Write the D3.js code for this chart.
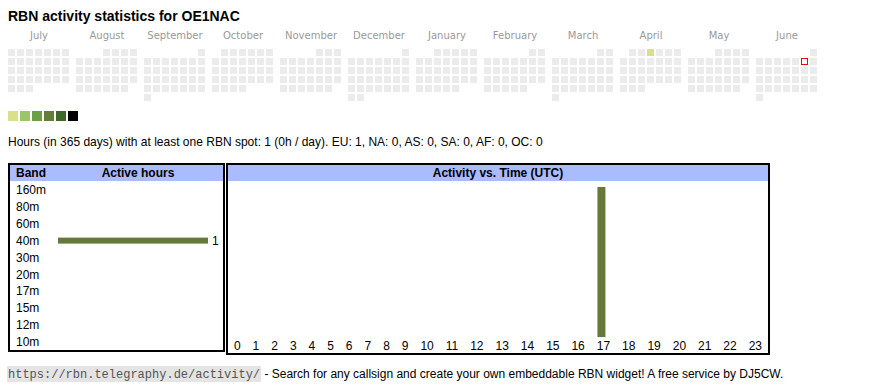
<!DOCTYPE html>
<html><head><meta charset="utf-8">
<script src="https://cdn.jsdelivr.net/npm/d3@7"></script>
<style>body{margin:0;background:#fff}svg{display:block}</style>
</head><body>
<svg id="c" width="870" height="390"></svg>
<script>
// ---------- data ----------
const title = "RBN activity statistics for OE1NAC";
const monthNames = ["July","August","September","October","November","December","January","February","March","April","May","June"];
const monthFirstWeekday = [0,3,6,1,4,6,2,5,5,1,3,6]; // 0 = Monday
const monthDays = [31,31,30,31,30,31,31,28,31,30,31,30];
const activeMonth = ["April"];
const activeDay = [3];
const activeDayHours = [1];
const todayMonth = "June";
const todayDay = 7;
const levelColors = ["#d9e08a","#9dc46b","#6aa046","#677b3b","#3d6a28","#000000"];
const summaryText = "Hours (in 365 days) with at least one RBN spot: 1 (0h / day). EU: 1, NA: 0, AS: 0, SA: 0, AF: 0, OC: 0";
const bands = ["160m","80m","60m","40m","30m","20m","17m","15m","12m","10m"];
const bandHours = [0,0,0,1,0,0,0,0,0,0];
const hours = ["0","1","2","3","4","5","6","7","8","9","10","11","12","13","14","15","16","17","18","19","20","21","22","23"];
const hourActivity = [0,0,0,0,0,0,0,0,0,0,0,0,0,0,0,0,0,1,0,0,0,0,0,0];
const footerUrl = "https://rbn.telegraphy.de/activity/";
const footerText = " - Search for any callsign and create your own embeddable RBN widget! A free service by DJ5CW.";

// ---------- drawing ----------
const svg = d3.select("#c");
const SANS = "'Liberation Sans', Arial, sans-serif";
const barColor = "#657a3a";
const headBlue = "#aabbff";

svg.append("text").attr("x", 8).attr("y", 21)
  .attr("font-family", SANS).attr("font-weight", "bold").attr("font-size", 14)
  .attr("fill", "#000").text(title);

// calendar
const monthX = d3.scaleBand().domain(monthNames).range([8, 8 + 12 * 68]);
const cell = 9, cs = 7, calTop = 49;
const color = d3.scaleThreshold().domain([2,3,4,5,6]).range(levelColors);

const cal = svg.append("g");
monthNames.forEach((m, i) => {
  const x0 = monthX(m);
  cal.append("text").attr("x", x0 + 31).attr("y", 39)
    .attr("text-anchor", "middle").attr("font-family", "'DejaVu Sans', Verdana, sans-serif")
    .attr("font-size", 10).attr("fill", "#999").text(m);
  const days = d3.range(1, monthDays[i] + 1);
  cal.selectAll(null).data(days).enter().append("rect")
    .each(function(d) {
      const k = monthFirstWeekday[i] + d - 1;
      const col = k % 7, row = Math.floor(k / 7);
      const ai = activeMonth.findIndex((am, j) => am === m && activeDay[j] === d);
      const isToday = (m === todayMonth && d === todayDay);
      const r = d3.select(this);
      if (isToday) {
        r.attr("x", x0 + col * cell + 0.5).attr("y", calTop + row * cell + 0.5)
         .attr("width", cs - 1).attr("height", cs - 1)
         .attr("fill", "#fff").attr("stroke", "#ff0000").attr("stroke-width", 1);
      } else {
        r.attr("x", x0 + col * cell).attr("y", calTop + row * cell)
         .attr("width", cs).attr("height", cs)
         .attr("fill", ai >= 0 ? color(activeDayHours[ai]) : "#ebebeb");
      }
    });
});

// legend
svg.append("g").selectAll("rect").data(levelColors).enter().append("rect")
  .attr("x", (d, i) => 8 + i * 12).attr("y", 111).attr("width", 10).attr("height", 10)
  .attr("fill", d => d);

const sumT = svg.append("text").attr("x", 0).attr("y", 0)
  .attr("font-family", SANS).attr("font-size", 12).attr("fill", "#000").text(summaryText);
const sw = sumT.node().getComputedTextLength();
sumT.attr("transform", `translate(8,146) scale(${535 / sw},1)`);

// ---------- left table ----------
const L = {x0: 9, x1: 224, y0: 164, y1: 351};
svg.append("rect").attr("x", L.x0 + 1).attr("y", L.y0 + 1).attr("width", L.x1 - L.x0 - 2).attr("height", 16).attr("fill", headBlue);
svg.append("rect").attr("x", L.x0).attr("y", L.y0).attr("width", L.x1 - L.x0).attr("height", L.y1 - L.y0)
  .attr("fill", "none").attr("stroke", "#000").attr("stroke-width", 2);
svg.append("text").attr("x", 16).attr("y", 177).attr("font-family", SANS).attr("font-weight", "bold").attr("font-size", 12).text("Band");
svg.append("text").attr("x", 138).attr("y", 177).attr("text-anchor", "middle").attr("font-family", SANS).attr("font-weight", "bold").attr("font-size", 12).text("Active hours");

const yBand = d3.scaleBand().domain(bands).range([181.6, 350.2]);
const xLen = d3.scaleLinear().domain([0, d3.max(bandHours)]).range([0, 150]);
const lg = svg.append("g");
lg.selectAll("text.b").data(bands).enter().append("text")
  .attr("x", 16).attr("y", d => yBand(d) + yBand.bandwidth() / 2 + 4.3)
  .attr("font-family", SANS).attr("font-size", 12).attr("fill", "#000").text(d => d);
const bandData = bands.map((b, i) => ({b, v: bandHours[i]})).filter(d => d.v > 0);
lg.selectAll("rect").data(bandData).enter().append("rect")
  .attr("x", 58).attr("y", d => yBand(d.b) + yBand.bandwidth() / 2 - 3)
  .attr("width", d => xLen(d.v)).attr("height", 6).attr("fill", barColor);
lg.selectAll("text.v").data(bandData).enter().append("text")
  .attr("x", d => 58 + xLen(d.v) + 4).attr("y", d => yBand(d.b) + yBand.bandwidth() / 2 + 4.3)
  .attr("font-family", SANS).attr("font-size", 12).text(d => d.v);

// ---------- right table ----------
const R = {x0: 227, x1: 769, y0: 164, y1: 354};
svg.append("rect").attr("x", R.x0 + 1).attr("y", R.y0 + 1).attr("width", R.x1 - R.x0 - 2).attr("height", 16).attr("fill", headBlue);
svg.append("rect").attr("x", R.x0).attr("y", R.y0).attr("width", R.x1 - R.x0).attr("height", R.y1 - R.y0)
  .attr("fill", "none").attr("stroke", "#000").attr("stroke-width", 2);
svg.append("text").attr("x", (R.x0 + R.x1) / 2).attr("y", 177).attr("text-anchor", "middle")
  .attr("font-family", SANS).attr("font-weight", "bold").attr("font-size", 12).text("Activity vs. Time (UTC)");

const rg = svg.append("g");
const hourLabels = rg.selectAll("text").data(hours).enter().append("text")
  .attr("y", 350).attr("text-anchor", "middle")
  .attr("font-family", SANS).attr("font-size", 12).attr("fill", "#000").text(d => d);
const tw = hourLabels.nodes().map(n => n.getComputedTextLength());
const innerL = R.x0 + 1, innerW = R.x1 - R.x0 - 2;
const pad = (innerW - d3.sum(tw)) / hours.length;
let acc = innerL;
const centers = tw.map(w => { const c = acc + (w + pad) / 2; acc += w + pad; return c; });
const xHour = d3.scaleOrdinal().domain(hours).range(centers);
hourLabels.attr("x", d => xHour(d));

const yAct = d3.scaleLinear().domain([0, d3.max(hourActivity)]).range([337, 187]);
const hourData = hours.map((h, i) => ({h, v: hourActivity[i]})).filter(d => d.v > 0);
rg.selectAll("rect").data(hourData).enter().append("rect")
  .attr("x", d => xHour(d.h) - 6).attr("y", d => yAct(d.v))
  .attr("width", 8).attr("height", d => yAct(0) - yAct(d.v)).attr("fill", barColor);

// ---------- footer ----------
const fg = svg.append("g");
const urlT = fg.append("text").attr("x", 8).attr("y", 378)
  .attr("font-family", "'Liberation Mono', 'Courier New', monospace").attr("font-size", 12)
  .attr("fill", "#555").text(footerUrl);
const ub = urlT.node().getBBox();
fg.insert("rect", "text").attr("x", ub.x - 1).attr("y", 366).attr("width", ub.width + 2).attr("height", 16).attr("fill", "#e4e4e4");
fg.append("text").attr("x", ub.x + ub.width + 1).attr("y", 378)
  .attr("font-family", SANS).attr("font-size", 12).attr("fill", "#000")
  .attr("xml:space", "preserve").style("white-space", "pre").text(footerText);
</script>
</body></html>
